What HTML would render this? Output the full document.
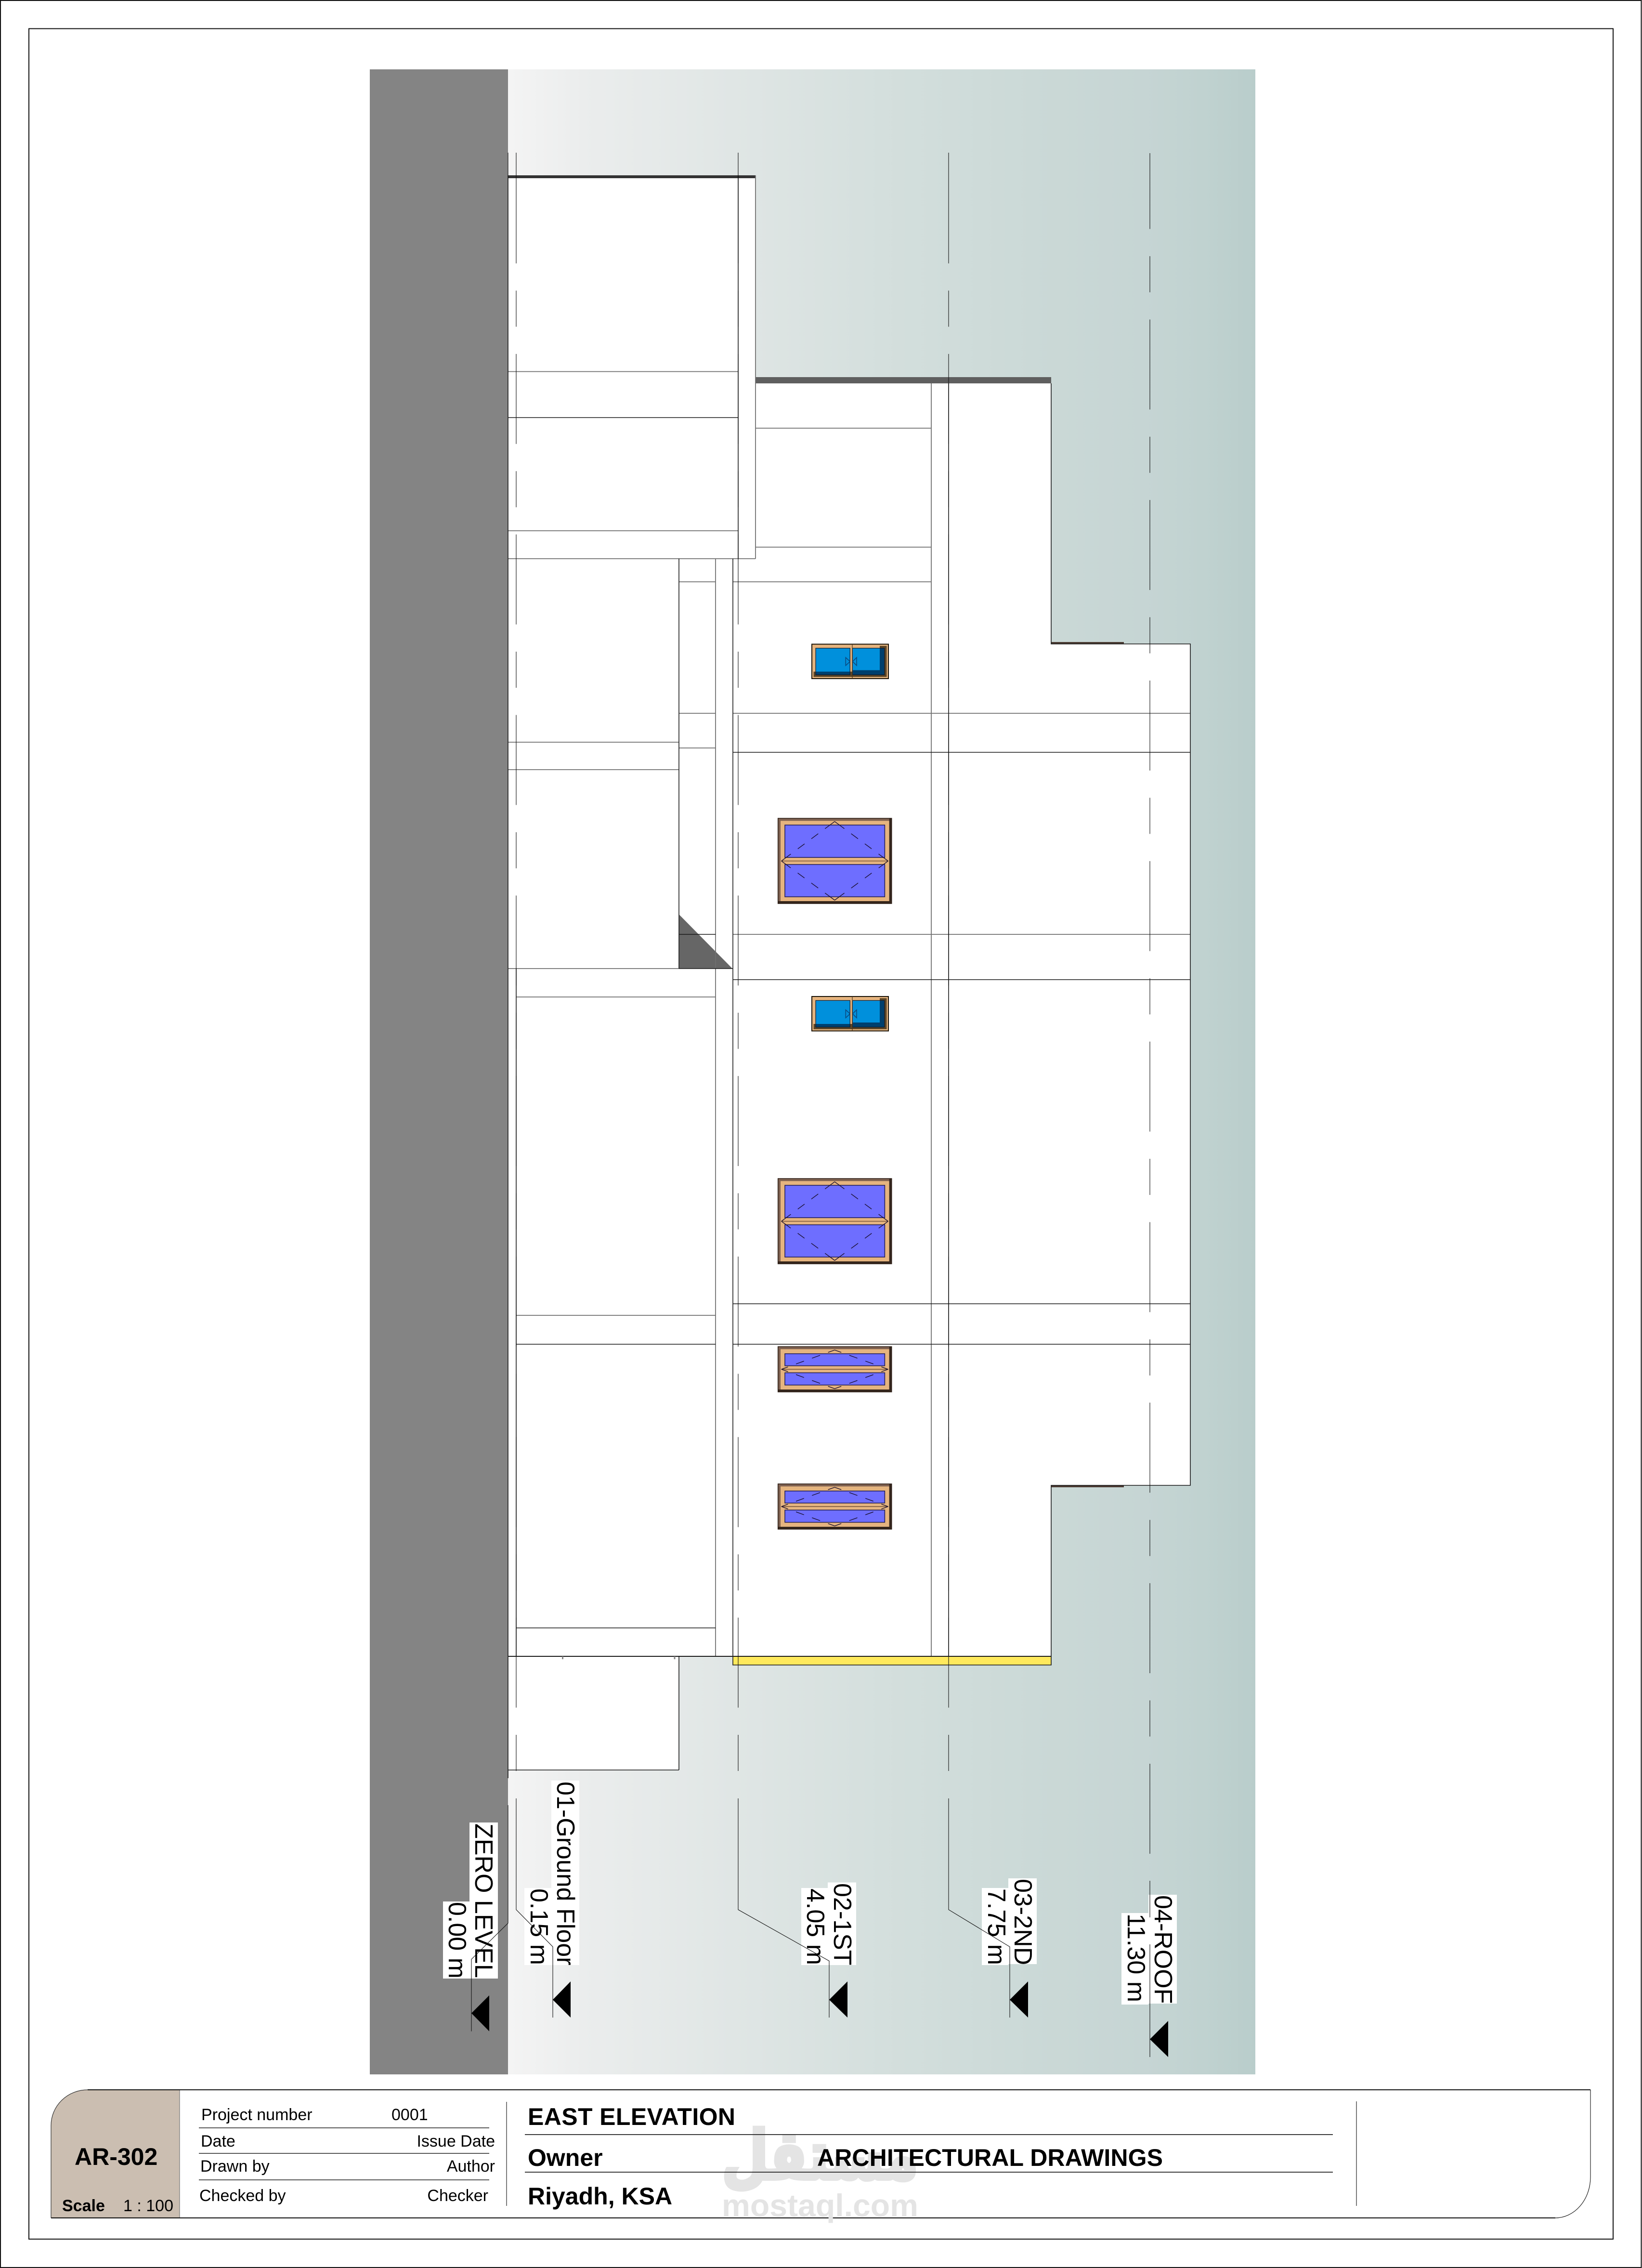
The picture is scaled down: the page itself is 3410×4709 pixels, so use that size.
<!DOCTYPE html>
<html lang="en">
<head>
<meta charset="utf-8">
<title>AR-302 East Elevation</title>
<style>
html,body{margin:0;padding:0;background:#fff}
svg{display:block}
text{font-family:"Liberation Sans",sans-serif}
</style>
</head>
<body>
<svg xmlns="http://www.w3.org/2000/svg" width="3410" height="4709" viewBox="0 0 3410 4709">
<defs>
<linearGradient id="sky" gradientUnits="userSpaceOnUse" x1="1055" y1="0" x2="2607" y2="0">
<stop offset="0" stop-color="#f4f4f4"/>
<stop offset="0.1" stop-color="#ebeded"/>
<stop offset="0.3" stop-color="#e0e6e5"/>
<stop offset="0.5" stop-color="#d4dfdd"/>
<stop offset="0.7" stop-color="#cbd9d7"/>
<stop offset="0.85" stop-color="#c6d5d4"/>
<stop offset="0.93" stop-color="#c0d2d0"/>
<stop offset="1" stop-color="#b9cdcb"/>
</linearGradient>

<g id="small">
<rect x="0" y="0" width="159" height="71.5" fill="#e5b47f"/>
<path d="M3.5 57H141V3.5H155.5V68H3.5Z" fill="#5c4526"/>
<rect x="0" y="0" width="159" height="71.5" fill="none" stroke="#1c1408" stroke-width="2"/>
<rect x="8" y="8.3" width="71.3" height="55.4" fill="#0090dc"/>
<rect x="84.3" y="8.3" width="66.4" height="55.4" fill="#0090dc"/>
<path d="M8 57H79.3V63.7H8Z" fill="#003f6d"/>
<path d="M141 8.3H150.7V63.7H84.3V54H141Z" fill="#003f6d"/>
<rect x="8" y="8.3" width="71.3" height="55.4" fill="none" stroke="#101828" stroke-width="1.2"/>
<rect x="84.3" y="8.3" width="66.4" height="55.4" fill="none" stroke="#101828" stroke-width="1.2"/>
<path d="M84 0V71.5" stroke="#4a3218" stroke-width="1.2"/>
<path d="M70.3 27.7L79.3 36L70.3 44.3Z M93 27.7L84.5 36L93 44.3Z" fill="none" stroke="#0b4a80" stroke-width="1.6"/>
</g>

<g id="large">
<rect x="0" y="0" width="236" height="177" fill="#e5b47f"/>
<path d="M0 0H236V5.3H5.3V177H0Z" fill="#7f6150"/>
<path d="M231 0H236V177H0V172H231Z" fill="#35261c"/>
<rect x="0" y="0" width="236" height="177" fill="none" stroke="#2a1c14" stroke-width="1.5"/>
<rect x="14.3" y="14" width="207.4" height="67.3" fill="#6e6eff" stroke="#1e1a50" stroke-width="1.5"/>
<rect x="14.3" y="96" width="207.4" height="67" fill="#6e6eff" stroke="#1e1a50" stroke-width="1.5"/>
<path d="M7 88.7H229" stroke="#5a3a28" stroke-width="1.2"/>
<g fill="none" stroke="#1a1030" stroke-width="1.4" stroke-dasharray="25 17.5 17.8 17.5 17.5 18 25">
<path d="M117.7 6.7L7 88.7"/>
<path d="M117.7 6.7L228.7 88.7"/>
<path d="M117.7 170L7 88.7"/>
<path d="M117.7 170L228.7 88.7"/>
</g>
</g>

<g id="wide">
<rect x="0" y="0" width="236" height="94" fill="#e5b47f"/>
<path d="M0 0H236V5.3H5.3V94H0Z" fill="#7f6150"/>
<path d="M231 0H236V94H0V89H231Z" fill="#35261c"/>
<rect x="0" y="0" width="236" height="94" fill="none" stroke="#2a1c14" stroke-width="1.5"/>
<rect x="14.3" y="14.7" width="207.4" height="25" fill="#6e6eff" stroke="#1e1a50" stroke-width="1.5"/>
<rect x="14.3" y="54.3" width="207.4" height="25.4" fill="#6e6eff" stroke="#1e1a50" stroke-width="1.5"/>
<path d="M7 47H229" stroke="#5a3a28" stroke-width="1.2"/>
<g fill="none" stroke="#1a1030" stroke-width="1.4" stroke-dasharray="14.6 17.7 17.8 17.7 17.6 17.7 15">
<path d="M117.7 7L7 47"/>
<path d="M117.7 7L228.7 47"/>
<path d="M117.7 87.3L7 47"/>
<path d="M117.7 87.3L228.7 47"/>
</g>
</g>
</defs>

<rect width="3410" height="4709" fill="#fff"/>
<rect x="1" y="1" width="3407.5" height="4707" fill="none" stroke="#111" stroke-width="2"/>
<rect x="60" y="59.5" width="3290" height="4589.5" fill="none" stroke="#111" stroke-width="2"/>

<rect x="1055" y="144" width="1552" height="4163" fill="url(#sky)"/>
<rect x="768" y="144" width="287" height="4163" fill="#848484"/>

<!-- building white masses -->
<path d="M1055 364H1569V796H2183V1337H2472V3084H2183V3439H1410V3675H1055Z" fill="#fff"/>

<!-- coloured bands and triangle -->
<rect x="1055" y="364" width="514" height="6" fill="#333"/>
<rect x="1569" y="783" width="614" height="13" fill="#5f5f5f"/>
<rect x="2183" y="1333" width="151" height="4" fill="#4a3a32"/>
<rect x="2183" y="3084" width="151" height="4" fill="#4a3a32"/>
<rect x="1522" y="3439" width="661" height="18" fill="#ffe95c"/>
<path d="M1409.5 1898L1521.5 2011.5H1409.5Z" fill="#666"/>

<!-- gray lines -->
<g fill="none" stroke="#707070" stroke-width="1.8">
<path d="M1055 771.5H1533M1055 1102H1533M1055 1160H1569M1569 364V1160"/>
<path d="M1486 1160V3439M1934 796V3439"/>
<path d="M1569 889H1934M1569 1136H1934"/>
<path d="M1410 1208H1486M1522 1208H1934M1410 1553H1486M1410 1481H1486"/>
<path d="M1522 1481H2472M1522 1940H2472M1072 2070H1486"/>
<path d="M1055 1541H1410M1055 1598H1410M1072 2731H1486"/>
<path d="M1055 2011H1410"/>
</g>

<!-- black lines -->
<g fill="none" stroke="#1a1a1a" stroke-width="1.6">
<path d="M1055 364V3692"/>
<path d="M1055 867H1533"/>
<path d="M1410 1160V2011M1410 3439V3675M1055 3675H1410"/>
<path d="M1522 1160V3439"/>
<path d="M1533 364V1160"/>
<path d="M1970 796V3439"/>
<path d="M1072 2011V3439"/>
<path d="M2183 796V1337H2472V3084H2183V3457H1522V3439"/>
<path d="M1522 1562H2472M1522 2034H2472M1522 2707H2472M1522 2791H2472"/>
<path d="M1410 1940H1486M1410 2011H1522"/>
<path d="M1072 2791H1486M1072 3380H1486"/>
<path d="M1055 3439H2183" stroke-width="2"/>
</g>
<path d="M1168.5 3439V3445M1401 3439V3445" stroke="#888" stroke-width="3"/>

<!-- windows -->
<use href="#small" x="1686" y="1337.5"/>
<use href="#small" x="1686" y="2069"/>
<use href="#large" x="1615.7" y="1699"/>
<use href="#large" x="1615.7" y="2447"/>
<use href="#wide" x="1615.7" y="2796"/>
<use href="#wide" x="1615.7" y="3081"/>

<!-- level label backgrounds -->
<g fill="#fff">
<rect x="975" y="3784" width="59" height="324"/>
<rect x="920" y="3948" width="55" height="160"/>
<rect x="1145" y="3697" width="58" height="383"/>
<rect x="1089" y="3920" width="56" height="160"/>
<rect x="1719" y="3908.5" width="59" height="171.5"/>
<rect x="1664" y="3920" width="55" height="160"/>
<rect x="2094" y="3900" width="59" height="178"/>
<rect x="2039" y="3920" width="55" height="160"/>
<rect x="2385" y="3934" width="59" height="226"/>
<rect x="2329" y="3972" width="56" height="190"/>
</g>
<g font-size="52" fill="#000">
<text transform="translate(987,3786) rotate(90)">ZERO LEVEL</text>
<text transform="translate(932,3949) rotate(90)">0.00 m</text>
<text transform="translate(1157,3699) rotate(90)">01-Ground Floor</text>
<text transform="translate(1102,3921) rotate(90)">0.15 m</text>
<text transform="translate(1732,3910) rotate(90)">02-1ST</text>
<text transform="translate(1676,3921) rotate(90)">4.05 m</text>
<text transform="translate(2107,3901) rotate(90)">03-2ND</text>
<text transform="translate(2052,3921) rotate(90)">7.75 m</text>
<text transform="translate(2398,3935) rotate(90)">04-ROOF</text>
<text transform="translate(2342,3973) rotate(90)">11.30 m</text>
</g>

<!-- level lines -->
<g fill="none" stroke="#111" stroke-width="1.1">
<g stroke-dasharray="186.9 56.5 75 56.43">
<path d="M1072 360V3677"/>
<path d="M1533 360V3677"/>
<path d="M1970 360V3677"/>
<path d="M2388 318V3849" stroke-dashoffset="29.5"/>
</g>
<path d="M1055 317V364M1072 317V360M1533 317V360M1970 317V360"/>
<path d="M1055 3748V3993L979 4068V4217.5"/>
<path d="M1072 3734V3965L1148 4042V4189"/>
<path d="M1533 3734V3965L1722 4071.5V4189"/>
<path d="M1970 3734V3965L2097 4042V4189"/>
<path d="M2388 3905V3981M2388 4037V4271"/>
</g>
<g fill="#000">
<path d="M979 4180L1016 4143V4217.5Z"/>
<path d="M1148 4152L1185 4114V4189Z"/>
<path d="M1722 4152L1760 4114V4189Z"/>
<path d="M2097 4152L2135 4114V4189Z"/>
<path d="M2388 4234L2426 4196V4271Z"/>
</g>

<!-- title block -->
<path d="M106 4605V4413A76 74 0 0 1 182 4339H373V4605Z" fill="#cbbeb1"/>
<path d="M373 4339V4605" stroke="#777" stroke-width="1.2"/>
<path d="M106 4605V4413A76 74 0 0 1 182 4339" fill="none" stroke="#333" stroke-width="1.2"/>
<path d="M182 4339H3303" stroke="#111" stroke-width="2"/>
<path d="M3303 4339V4520A73 85 0 0 1 3230 4605" fill="none" stroke="#222" stroke-width="1.2"/>
<path d="M106 4605H3230" stroke="#111" stroke-width="2"/>
<path d="M1052 4364V4580M2817 4363V4580" stroke="#222" stroke-width="1.2"/>

<!-- watermark -->
<g fill="#e4e4e4">
<text x="1499" y="4524" font-size="140" font-weight="700" stroke="#e4e4e4" stroke-width="8" textLength="408" lengthAdjust="spacingAndGlyphs" style="font-family:'DejaVu Sans',sans-serif">مستقل</text>
<text x="1499" y="4602" font-size="66" font-weight="700" textLength="408" lengthAdjust="spacingAndGlyphs">mostaql.com</text>
</g>

<path d="M413 4418H1016M413 4471H1016M413 4526H1016" stroke="#222" stroke-width="1.6"/>
<path d="M1090 4432H2768M1090 4510H2768" stroke="#222" stroke-width="1.8"/>

<g font-size="34" fill="#000">
<text x="418" y="4402">Project number</text>
<text x="813" y="4402">0001</text>
<text x="417" y="4457">Date</text>
<text x="1028" y="4457" text-anchor="end">Issue Date</text>
<text x="416" y="4509">Drawn by</text>
<text x="1028" y="4509" text-anchor="end">Author</text>
<text x="414" y="4570">Checked by</text>
<text x="1014" y="4570" text-anchor="end">Checker</text>
<text x="256" y="4591">1 : 100</text>
<text x="129" y="4591" font-weight="700">Scale</text>
</g>
<g font-size="50" font-weight="700" fill="#000">
<text x="155" y="4495">AR-302</text>
<text x="1096" y="4412" textLength="431">EAST ELEVATION</text>
<text x="1096" y="4497">Owner</text>
<text x="1697" y="4497" textLength="718">ARCHITECTURAL DRAWINGS</text>
<text x="1096" y="4577">Riyadh, KSA</text>
</g>
</svg>
</body>
</html>
